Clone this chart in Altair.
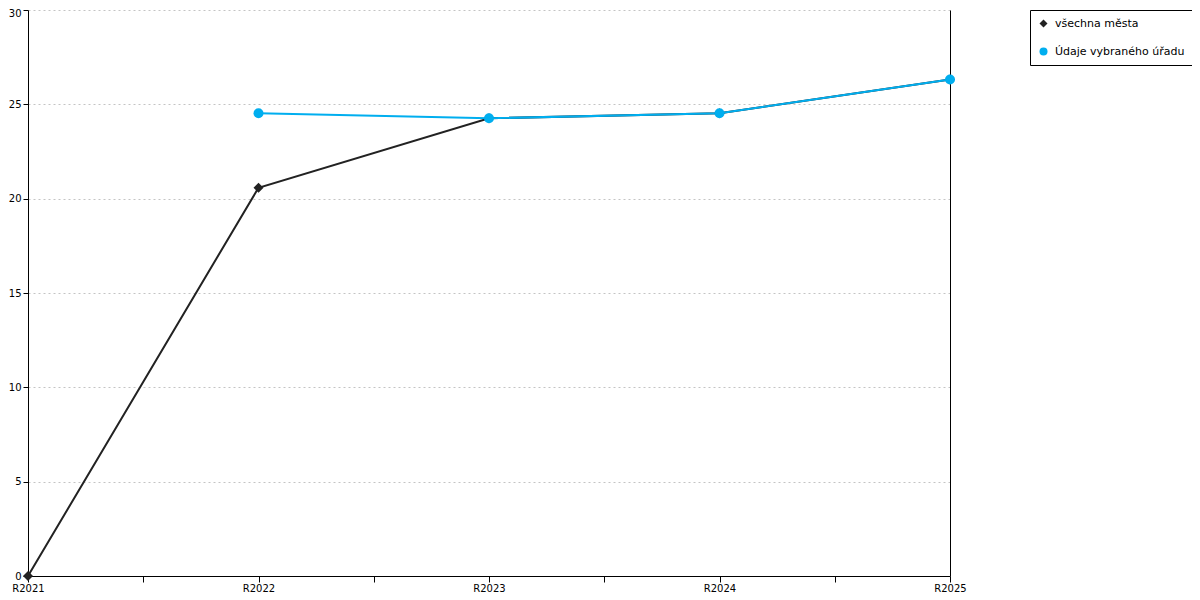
import json
import altair as alt
import pandas as pd

# years on the x axis
years = ["R2021", "R2022", "R2023", "R2024", "R2025"]
# series values
all_cities = [0.0, 20.58, 24.26, 24.53, 26.32]
office = [None, 24.53, 24.26, 24.53, 26.32]
series_names = ["všechna města", "Údaje vybraného úřadu"]
series_colors = ["#222222", "#00AEEF"]
series_shapes = ["diamond", "circle"]

rows = []
for name, values in zip(series_names, [all_cities, office]):
    for i, v in enumerate(values):
        if v is not None:
            rows.append({"idx": i, "year": years[i], "series": name, "value": v})
data = pd.DataFrame(rows)

label_expr = "datum.value % 1 == 0 ? " + json.dumps(years) + "[datum.value] : ''"
x_ticks = [i / 2 for i in range(2 * (len(years) - 1) + 1)]

x_enc = alt.X(
    "idx:Q",
    scale=alt.Scale(domain=[0, len(years) - 1], nice=False, zero=False),
    axis=alt.Axis(
        values=x_ticks, labelExpr=label_expr, title=None, grid=False,
        labelFlush=False, labelOverlap=False, tickSize=6, labelPadding=1,
    ),
)
y_scale = alt.Scale(domain=[0, 30], nice=False)
color_scale = alt.Scale(domain=series_names, range=series_colors)

lines = (alt
    .Chart(data)
    .mark_line(strokeWidth=2)
    .encode(
        x=x_enc,
        y=alt.Y("value:Q", scale=y_scale,
                axis=alt.Axis(values=list(range(0, 31, 5)), title=None,
                              gridDash=[2, 3], gridColor="#c4c4c4",
                              tickSize=5, labelPadding=2,
                              labelOffset={"condition": {"test": "datum.value == 30", "value": 3},
                                           "value": 0})),
        color=alt.Color("series:N", sort=series_names, scale=color_scale),
        detail="series:N",
    )
)

points = (alt
    .Chart(data)
    .mark_point(filled=True, size=100, opacity=1)
    .encode(
        x=x_enc,
        y=alt.Y("value:Q", scale=y_scale,
                axis=alt.Axis(orient="right", labels=False, ticks=False,
                              grid=False, title=None)),
        color=alt.Color("series:N", sort=series_names, scale=color_scale),
        shape=alt.Shape("series:N", sort=series_names,
                        scale=alt.Scale(domain=series_names, range=series_shapes)),
    )
)

chart = (alt
    .layer(lines, points)
    .resolve_axis(y="independent")
    .properties(
        width=922, height=566,
        autosize=alt.AutoSizeParams(type="none"),
        padding={"left": 20, "top": 2, "right": 242, "bottom": 16},
    )
    .configure(font="DejaVu Sans")
    .configure_view(stroke=None)
    .configure_axis(domainColor="black", tickColor="black", labelColor="black",
                    labelFontSize=10, labelFont="DejaVu Sans")
    .configure_legend(
        title=None, orient="right", offset=76,
        strokeColor="black", fillColor="white", padding=8, cornerRadius=0,
        labelFont="DejaVu Sans", labelColor="black", labelFontSize=11,
        labelOffset=6, symbolSize=64, rowPadding=16, symbolStrokeWidth=0,
    )
)

chart.save("out.html", embed_options={"renderer": "svg", "actions": False})
